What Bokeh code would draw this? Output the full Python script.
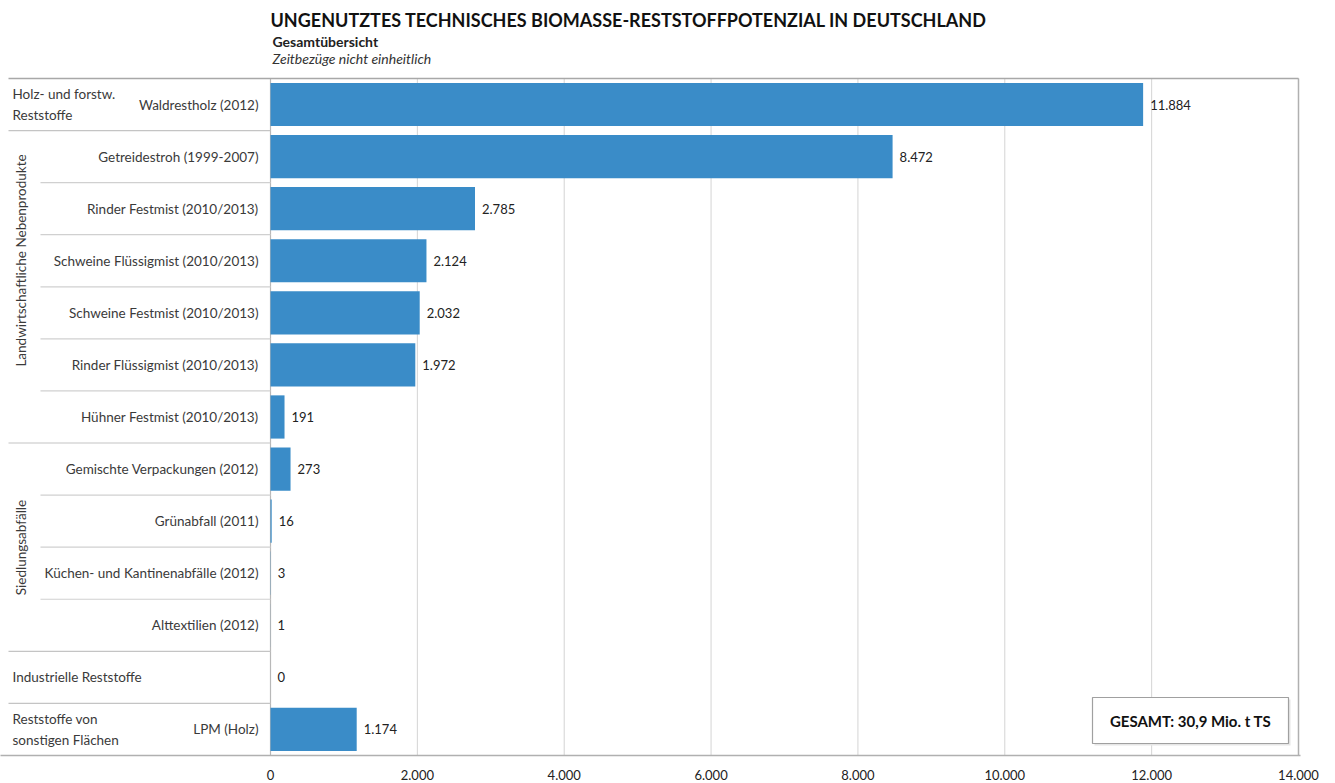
import math
from bokeh.plotting import figure
from bokeh.models import Range1d, FixedTicker, ColumnDataSource
from bokeh.core.properties import value
from bokeh.embed import file_html
from bokeh.resources import INLINE

# ---------------- data ----------------
categories = [
    "Waldrestholz (2012)",
    "Getreidestroh (1999-2007)",
    "Rinder Festmist (2010/2013)",
    "Schweine Flüssigmist (2010/2013)",
    "Schweine Festmist (2010/2013)",
    "Rinder Flüssigmist (2010/2013)",
    "Hühner Festmist (2010/2013)",
    "Gemischte Verpackungen (2012)",
    "Grünabfall (2011)",
    "Küchen- und Kantinenabfälle (2012)",
    "Alttextilien (2012)",
    "",
    "LPM (Holz)",
]
values = [11884, 8472, 2785, 2124, 2032, 1972, 191, 273, 16, 3, 1, 0, 1174]
groups = [
    "Holz- und forstw.\nReststoffe",
    "Landwirtschaftliche Nebenprodukte",
    "Siedlungsabfälle",
    "Industrielle Reststoffe",
    "Reststoffe von\nsonstigen Flächen",
]
group_rows = [(0, 0), (1, 6), (7, 10), (11, 11), (12, 12)]
tick_values = [0, 2000, 4000, 6000, 8000, 10000, 12000, 14000]
tick_labels = ["0", "2.000", "4.000", "6.000", "8.000", "10.000", "12.000", "14.000"]
title = "UNGENUTZTES TECHNISCHES BIOMASSE-RESTSTOFFPOTENZIAL IN DEUTSCHLAND"
subtitle = "Gesamtübersicht"
note = "Zeitbezüge nicht einheitlich"
total_text = "GESAMT: 30,9 Mio. t TS"

# ---------------- layout helpers (pixel -> data) ----------------
S = 1028 / 14000.0      # px per unit on x
ROW = 52.08             # px per row


def X(px):
    return (px - 270) / S


def Y(py):
    return (py - 104) / ROW


FONT = value("Lato")
BAR = "#3a8cc8"
TXT = "#3a3a3a"
LAB = "13.5px"

p = figure(width=1335, height=783, output_backend="svg", toolbar_location=None,
           x_range=Range1d(X(0), X(1300)), y_range=Range1d(Y(755), Y(0)),
           y_axis_location=None, min_border_left=0, min_border_right=35,
           min_border_top=0, min_border_bottom=28)
p.outline_line_color = None
p.xgrid.visible = False
p.ygrid.visible = False
p.background_fill_color = "white"

n = len(values)
rows = list(range(n))

# grid lines
top_y = -0.5
bot_y = n - 0.5
p.segment(x0=tick_values[1:], x1=tick_values[1:], y0=[top_y] * 7, y1=[bot_y] * 7,
          line_color="#d4d4d4", line_width=1)
# axis line at zero
p.segment(x0=[0], x1=[0], y0=[top_y], y1=[bot_y], line_color="#b8b8b8", line_width=1.2)
# right border
p.segment(x0=[tick_values[-1]], x1=[tick_values[-1]], y0=[top_y], y1=[bot_y],
          line_color="#b0b0b0", line_width=1.5)
# top border
p.segment(x0=[X(8)], x1=[tick_values[-1]], y0=[top_y], y1=[top_y],
          line_color="#a8a8a8", line_width=1.5)

# separator lines in the label area
full_b = [g[1] + 0.5 for g in group_rows[:-1]]
p.segment(x0=[X(8)] * len(full_b), x1=[0] * len(full_b), y0=full_b, y1=full_b,
          line_color="#c4c4c4", line_width=1.2)
sub_b = []
for a, b in group_rows:
    for k in range(a, b):
        sub_b.append(k + 0.5)
p.segment(x0=[X(40)] * len(sub_b), x1=[0] * len(sub_b), y0=sub_b, y1=sub_b,
          line_color="#d0d0d0", line_width=1.2)

# bars
src = ColumnDataSource(dict(y=rows, v=values, cat=categories,
                            lab=[f"{v:,}".replace(",", ".") for v in values],
                            lx=[v + 7 / S for v in values]))
p.hbar(y="y", left=0, right="v", height=0.83, source=src, fill_color=BAR,
       line_color=None)

# value labels
p.text(x="lx", y="y", text="lab", source=src, text_font=FONT, text_font_size="13px",
       text_color="#222222", text_baseline="middle", text_align="left")

# category labels
p.text(x=[X(258)] * n, y=rows, text=categories, text_font=FONT, text_font_size=LAB,
       text_color=TXT, text_baseline="middle", text_align="right")

# group labels
for name, (a, b) in zip(groups, group_rows):
    if a == b:
        p.text(x=[X(12)], y=[a], text=[name], text_font=FONT, text_font_size=LAB,
               text_color=TXT, text_baseline="middle", text_align="left",
               text_line_height=1.3)
gy = {1: Y(260), 2: Y(547)}
for gi in (1, 2):
    p.text(x=[X(20)], y=[gy[gi]], text=[groups[gi]], text_font=FONT,
           text_font_size=LAB, text_color=TXT, text_baseline="middle",
           text_align="center", angle=math.pi / 2)

# titles
p.text(x=[X(270)], y=[Y(19)], text=[title], text_font=FONT, text_font_size="18px",
       text_font_style="bold", text_color="#111111", text_baseline="middle",
       text_align="left")
p.text(x=[X(272)], y=[Y(41)], text=[subtitle], text_font=FONT, text_font_size="14px",
       text_font_style="bold", text_color="#222222", text_baseline="middle",
       text_align="left")
p.text(x=[X(272)], y=[Y(58)], text=[note], text_font=FONT, text_font_size="14px",
       text_font_style="italic", text_color="#333333", text_baseline="middle",
       text_align="left")

# total box
p.quad(left=[X(1094)], right=[X(1290)], top=[Y(699)], bottom=[Y(745)],
       fill_color="#e6e6e6", line_color=None)
p.quad(left=[X(1092)], right=[X(1288)], top=[Y(697)], bottom=[Y(743)],
       fill_color="white", line_color="#a0a0a0", line_width=1.2)
p.text(x=[X(1190)], y=[Y(720)], text=[total_text], text_font=FONT, text_font_size="15px",
       text_font_style="bold", text_color="#111111", text_baseline="middle",
       text_align="center")

# x axis
ax = p.xaxis[0]
ax.ticker = FixedTicker(ticks=tick_values)
ax.major_label_overrides = {t: l for t, l in zip(tick_values, tick_labels)}
ax.major_tick_line_color = None
ax.minor_tick_line_color = None
ax.axis_line_color = "#b0b0b0"
ax.axis_line_width = 1.5
ax.major_label_standoff = 8
ax.major_label_text_font = "Lato"
ax.major_label_text_font_size = "13px"
ax.major_label_text_color = "#222222"

open("out.html", "w").write(file_html(p, INLINE))
